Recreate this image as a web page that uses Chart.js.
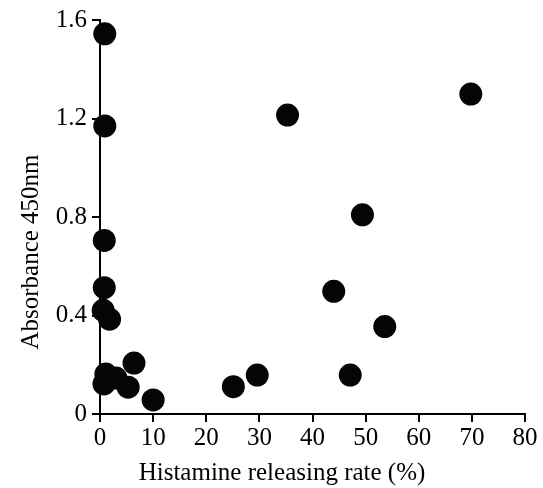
<!DOCTYPE html>
<html>
<head>
<meta charset="utf-8">
<script src="https://cdn.jsdelivr.net/npm/chart.js@4"></script>
<style>
  body { margin: 0; background: #fff; }
  .wrap { width: 543px; height: 488px; }
</style>
</head>
<body>
<div class="wrap"><canvas class="scatter-chart"></canvas></div>
<script>
// release rate (%) and absorbance
let releaseRate = [0.9, 0.9, 0.8, 0.8, 0.6, 1.8, 0.75, 1.1, 3.0, 5.3, 6.4, 10.0, 25.1, 29.6, 35.3, 44.0, 47.1, 49.4, 53.6, 69.8]
let absorbance = [1.544, 1.170, 0.705, 0.513, 0.421, 0.385, 0.122, 0.162, 0.146, 0.109, 0.207, 0.057, 0.111, 0.158, 1.214, 0.498, 0.158, 0.809, 0.355, 1.299]
let xTicks = [0, 10, 20, 30, 40, 50, 60, 70, 80]
let yTicks = [0, 0.4, 0.8, 1.2, 1.6]
let xTitle = "Histamine releasing rate (%)"
let yTitle = "Absorbance 450nm"

Chart.defaults.font.family = "'Liberation Serif', 'Times New Roman', serif"
Chart.defaults.font.size = 25
Chart.defaults.color = "#000"

const points = releaseRate.map((x, i) => ({ x: x, y: absorbance[i] }))

// axis titles sit a bit off-centre in the original, so draw them by hand
const axisTitles = {
  id: "axisTitles",
  afterDraw(chart) {
    const { ctx, chartArea } = chart
    ctx.save()
    ctx.fillStyle = "#000"
    ctx.font = "25px 'Liberation Serif', 'Times New Roman', serif"
    ctx.textAlign = "center"
    ctx.textBaseline = "middle"
    ctx.fillText(xTitle, chartArea.left + 182, chartArea.bottom + 59)
    ctx.translate(31, chartArea.top + 232)
    ctx.rotate(-Math.PI / 2)
    ctx.fillText(yTitle, 0, 0)
    ctx.restore()
  }
}

const axisStyle = {
  grid: {
    drawOnChartArea: false,
    drawTicks: true,
    tickLength: 8,
    color: "#000",
    lineWidth: 2
  },
  border: { display: true, color: "#000", width: 2 }
}

const config = {
  type: "scatter",
  data: {
    datasets: [{
      data: points,
      backgroundColor: "#050505",
      borderColor: "#050505",
      borderWidth: 0,
      pointRadius: 11.5,
      pointHoverRadius: 11.5,
      clip: false
    }]
  },
  options: {
    responsive: true,
    maintainAspectRatio: false,
    animation: false,
    layout: {
      padding: { left: 0, top: 19, right: 18, bottom: 0 }
    },
    plugins: {
      legend: { display: false },
      tooltip: { enabled: false }
    },
    scales: {
      x: {
        ...axisStyle,
        type: "linear",
        min: 0,
        max: 80,
        afterBuildTicks: (scale) => { scale.ticks = xTicks.map(v => ({ value: v })) },
        afterFit: (scale) => { scale.height = 74 },
        ticks: { padding: 1, maxRotation: 0 }
      },
      y: {
        ...axisStyle,
        type: "linear",
        min: 0,
        max: 1.6,
        afterBuildTicks: (scale) => { scale.ticks = yTicks.map(v => ({ value: v })) },
        afterFit: (scale) => { scale.width = 100 },
        ticks: {
          padding: 5,
          callback: (v) => String(+v.toFixed(1))
        }
      }
    }
  },
  plugins: [axisTitles]
}

const myChart = new Chart(document.querySelector(".scatter-chart").getContext("2d"), config)
</script>
</body>
</html>
